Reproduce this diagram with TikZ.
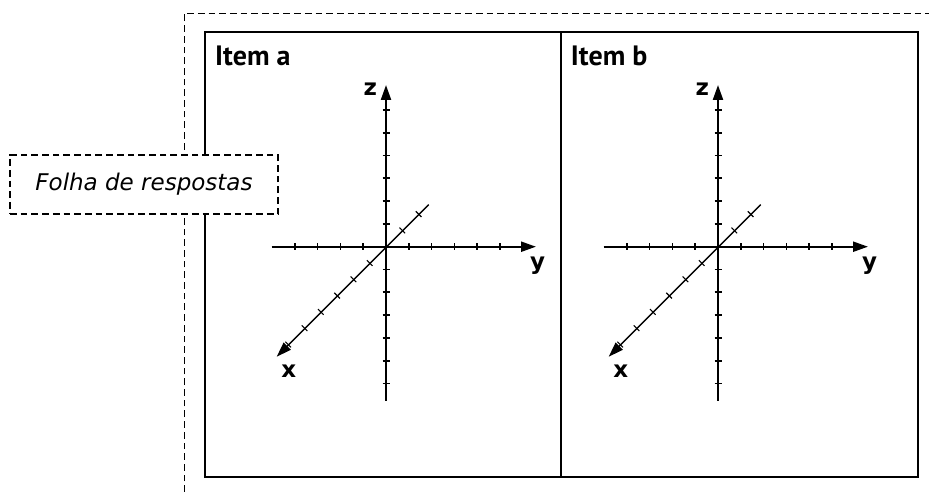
\documentclass[tikz,border=0pt]{standalone}
\usepackage{fontspec}
\setmainfont{PT Sans}
\newfontfamily\notefont{DejaVu Sans}
\usetikzlibrary{arrows.meta}
\tikzset{
  dashframe/.style={draw=black, line width=1.5pt, dash pattern=on 6.7pt off 4pt},
  solidframe/.style={draw=black, line width=2pt},
  notebox/.style={dashframe, fill=white, minimum width=268pt, minimum height=59pt, inner sep=0pt, font=\notefont\fontsize{23}{27}\selectfont\itshape},
  itemlabel/.style={anchor=base west, inner sep=0pt, font=\fontsize{28}{32}\selectfont\bfseries},
  axlabel/.style={inner sep=0pt, font=\notefont\fontsize{23}{27}\selectfont\bfseries},
  mainaxis/.style={line width=2.2pt, -{Triangle[length=15pt,width=10pt]}},
  diagaxis/.style={line width=1.4pt, -{Triangle[length=15pt,width=10pt]}},
  tick/.style={line width=1.7pt},
  dtick/.style={line width=1.1pt},
}
\newcommand{\axesset}[2]{%
  \begin{scope}[shift={(#2,246.7)}]
    \coordinate (#1yl) at (-114.3,0);
    \coordinate (#1yr) at (150,0);
    \coordinate (#1zb) at (0,154);
    \coordinate (#1zt) at (0,-161.7);
    \coordinate (#1xu) at (42.7,-42);
    \coordinate (#1xd) at (-109.3,110);
    \draw[mainaxis] (#1yl) -- (#1yr);
    \draw[mainaxis] (#1zb) -- (#1zt);
    \draw[diagaxis] (#1xu) -- (#1xd);
    \foreach \k in {-4,...,-1,1,2,3,4,5}
      \draw[tick] ({22.8*\k},-3.5) -- ({22.8*\k},3.5);
    \foreach \k in {-6,...,-1,1,2,...,6}
      \draw[tick] (-3.5,{22.8*\k}) -- (3.5,{22.8*\k});
    \foreach \k in {-6,...,-1,1,2}
      \draw[dtick] ({16.3*\k-2.8},{-16.3*\k-2.8}) -- ({16.3*\k+2.8},{-16.3*\k+2.8});
    \node[axlabel] (#1lz) at (-15.7,-157.7) {z};
    \node[axlabel] (#1ly) at (151.5,19) {y};
    \node[axlabel] (#1lx) at (-97.2,125) {x};
  \end{scope}}
\begin{document}
\begin{tikzpicture}[x=1pt,y=-1pt]
  \useasboundingbox (0,0) rectangle (929,492);
  % outer dashed frame
  \coordinate (ob) at (184.3,492);
  \coordinate (oc) at (184.3,13.3);
  \coordinate (or) at (929,13.3);
  \draw[dashframe] (ob) -- (oc) -- (or);
  % solid answer frame
  \coordinate (fa) at (205,32);
  \coordinate (fb) at (917.5,477.3);
  \coordinate (dt) at (561,32);
  \coordinate (db) at (561,477.3);
  \draw[solidframe] (fa) rectangle (fb);
  \draw[solidframe] (dt) -- (db);
  % labels
  \node[itemlabel] (ia) at (215,65.7) {Item a};
  \node[itemlabel] (ib) at (570.7,65.7) {Item b};
  % axes
  \axesset{a}{386}
  \axesset{b}{718}
  % note box
  \node[notebox] (folha) at (144,184.5) {Folha de respostas};
\end{tikzpicture}
\end{document}
